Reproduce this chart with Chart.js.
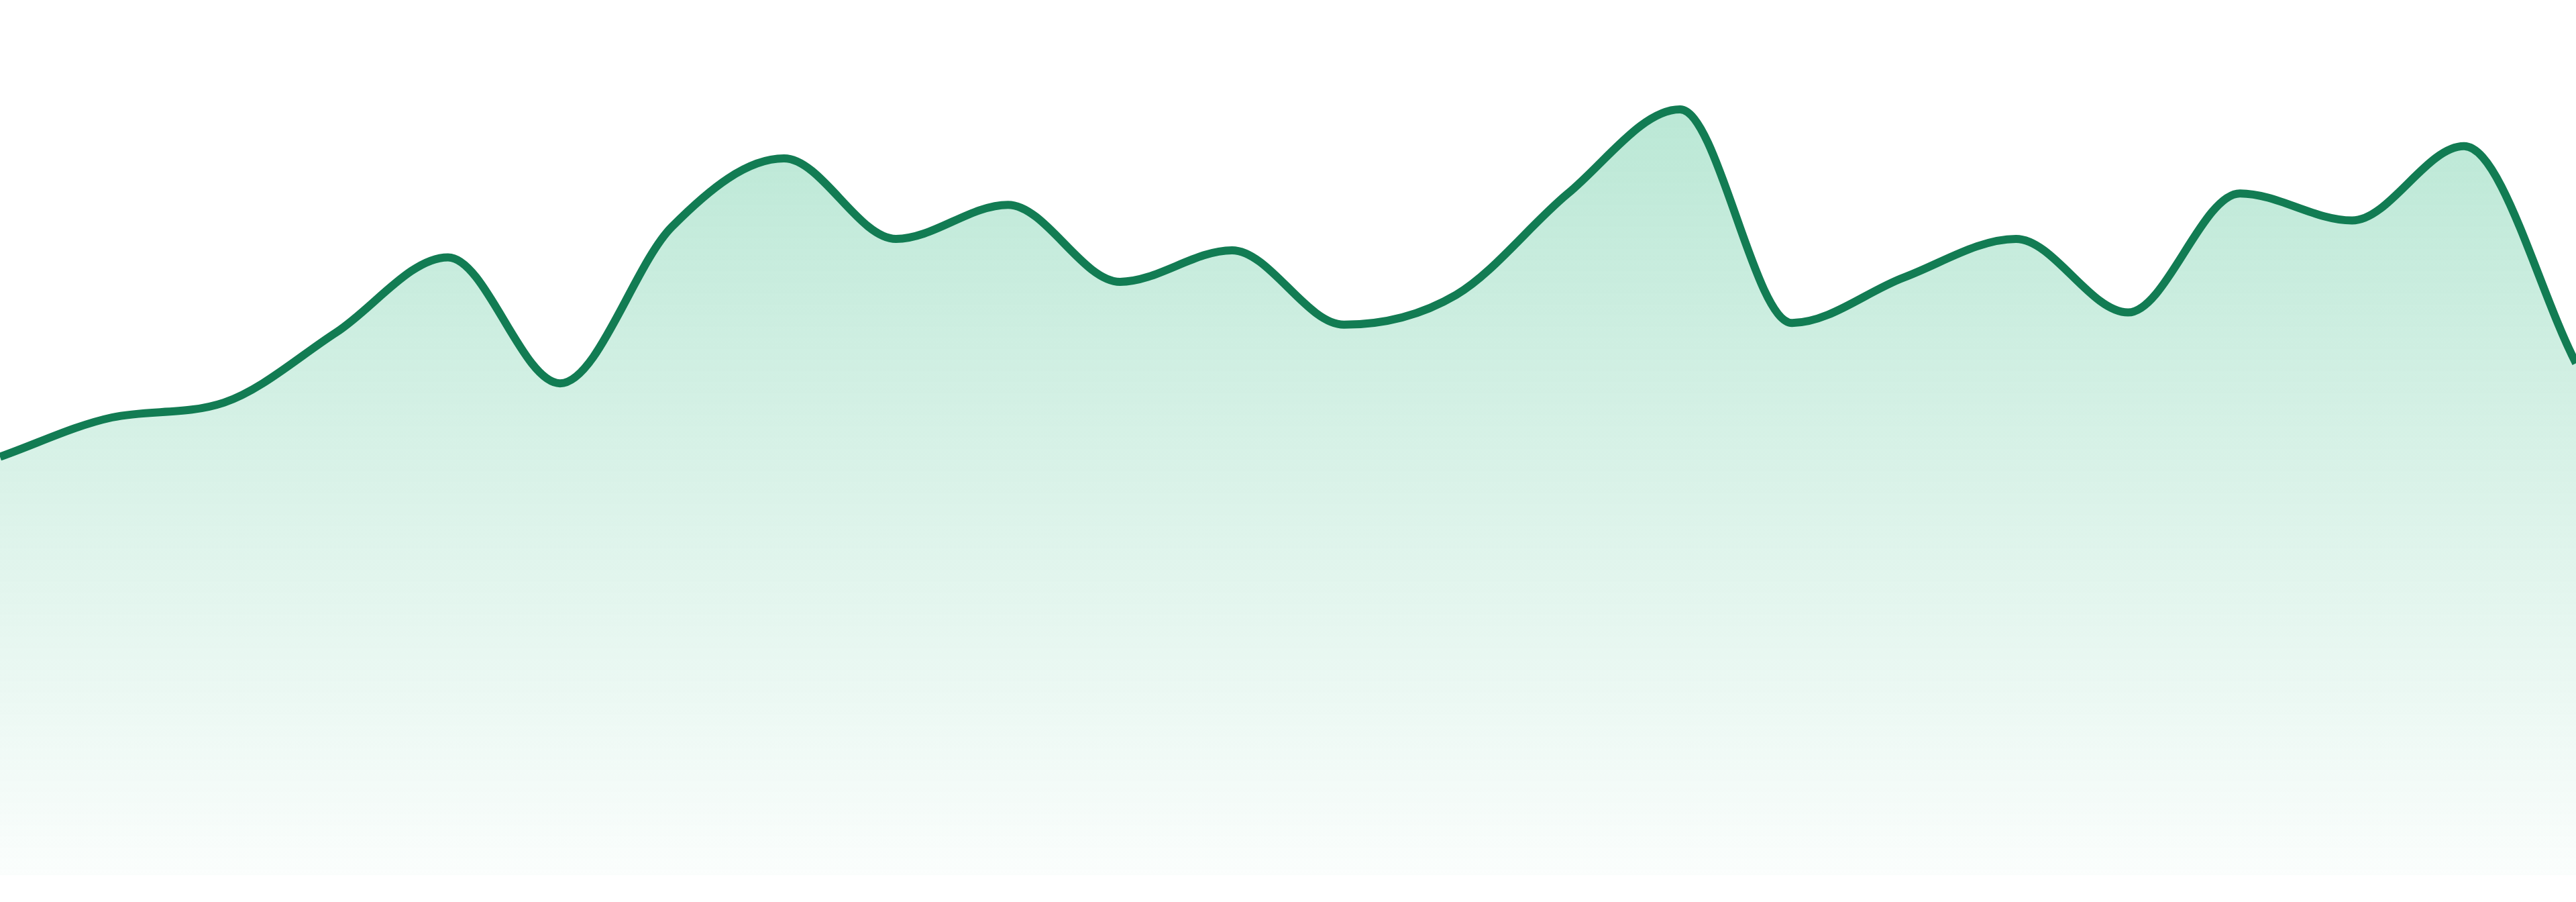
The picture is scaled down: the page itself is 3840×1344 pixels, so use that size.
<!DOCTYPE html>
<html>
<head>
<meta charset="utf-8">
<title>Trend</title>
<script src="https://cdn.jsdelivr.net/npm/chart.js@4.4.1/dist/chart.umd.min.js"></script>
<style>
  html, body { margin: 0; padding: 0; background: #ffffff; }
  #wrap { position: relative; width: 3840px; height: 1344px; }
</style>
</head>
<body>
<div id="wrap"><canvas id="trendChart"></canvas></div>
<script>
// 24 samples, evenly spaced across the full width
const labels = ['1', '2', '3', '4', '5', '6', '7', '8', '9', '10', '11', '12',
  '13', '14', '15', '16', '17', '18', '19', '20', '21', '22', '23', '24'];

const values = [47.8, 52.3, 54.0, 62.0, 70.6, 56.2, 74.1, 81.9, 72.7, 76.6, 67.8, 71.4,
  62.9, 66.3, 77.9, 87.5, 63.1, 68.3, 72.7, 64.3, 77.9, 74.8, 83.3, 58.5];

const yMin = 0;
const yMax = 100;

const lineColor = '#127c53';

// vertical gradient under the line, fading to almost nothing at the bottom
function areaFill(context) {
  const chart = context.chart;
  const area = chart.chartArea;
  if (!area) return 'rgba(20, 175, 112, 0.2)';
  const g = chart.ctx.createLinearGradient(0, area.top, 0, area.bottom);
  g.addColorStop(0, 'rgba(20, 175, 112, 0.33)');
  g.addColorStop(1, 'rgba(20, 175, 112, 0.02)');
  return g;
}

const ctx = document.getElementById('trendChart').getContext('2d');

new Chart(ctx, {
  type: 'line',
  data: {
    labels: labels,
    datasets: [{
      data: values,
      borderColor: lineColor,
      borderWidth: 12,
      backgroundColor: areaFill,
      fill: 'origin',
      tension: 0.4,
      cubicInterpolationMode: 'monotone',
      pointRadius: 0,
      pointHoverRadius: 0,
    }],
  },
  options: {
    responsive: true,
    maintainAspectRatio: false,
    animation: false,
    layout: {
      padding: { left: 0, right: 0, top: 0, bottom: 40 },
    },
    scales: {
      x: { display: false, offset: false },
      y: { display: false, min: yMin, max: yMax },
    },
    plugins: {
      legend: { display: false },
      tooltip: { enabled: false },
    },
  },
});
</script>
</body>
</html>
